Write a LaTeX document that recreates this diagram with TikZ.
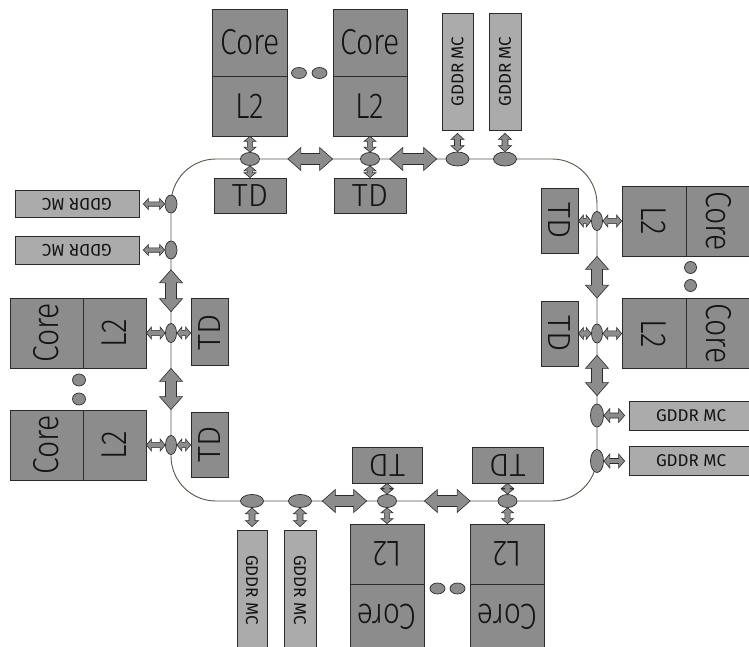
\documentclass[tikz,border=0pt]{standalone}
\usepackage{fontspec}
\setmainfont{Fira Sans}[UprightFont={* Light}]
\newfontfamily\mcfont{Fira Sans}
\usetikzlibrary{calc,shapes.geometric}

\definecolor{boxfill}{HTML}{8C8C8C}
\definecolor{mcfill}{HTML}{ABABAB}
\definecolor{edge}{HTML}{2B2B2B}
\definecolor{ringcol}{HTML}{55554A}
\definecolor{ink}{HTML}{141414}

% narrow, tall lettering for the unit labels
\newcommand{\lbl}[1]{\scalebox{0.84}[1]{#1}}

\tikzset{
  sz/.style 2 args={minimum width=#1pt, minimum height=#2pt},
  unit/.style={draw=edge, fill=boxfill, line width=0.8pt, inner sep=0pt, text=ink,
               font=\fontsize{36}{36}\selectfont},
  tdunit/.style={unit, font=\fontsize{32}{32}\selectfont},
  mc/.style={draw=edge, fill=mcfill, line width=0.8pt, inner sep=0pt, text=ink,
             font=\mcfont\fontsize{17}{17}\selectfont},
  stop/.style={ellipse, draw=edge, fill=boxfill, line width=0.7pt, inner sep=0pt},
  dotmark/.style={ellipse, draw=edge, fill=boxfill, line width=0.7pt, inner sep=0pt},
  arrowbody/.style={draw=edge, fill=boxfill, line width=0.6pt, line join=miter},
  ringpath/.style={draw=ringcol, line width=0.9pt, rounded corners=45pt},
}

% fat double-headed arrow between two points:
% #1 start, #2 end, #3 head length, #4 half head width, #5 half shaft width
\newcommand{\fatarrow}[5]{%
  \path (#1) coordinate (fa1) (#2) coordinate (fa2);
  \path ($(fa1)!#3!(fa2)$) coordinate (fb1) ($(fa2)!#3!(fa1)$) coordinate (fb2);
  \draw[arrowbody] (fa1) -- ($(fb1)!#4!90:(fa2)$) -- ($(fb1)!#5!90:(fa2)$)
    -- ($(fb2)!#5!-90:(fa1)$) -- ($(fb2)!#4!-90:(fa1)$) -- (fa2)
    -- ($(fb2)!#4!90:(fa1)$) -- ($(fb2)!#5!90:(fa1)$)
    -- ($(fb1)!#5!-90:(fa2)$) -- ($(fb1)!#4!-90:(fa2)$) -- cycle;
}
\newcommand{\bigarrow}[2]{\fatarrow{#1}{#2}{13pt}{11.5pt}{5.5pt}}
\newcommand{\linkarrow}[2]{\fatarrow{#1}{#2}{5pt}{6pt}{2.6pt}}
\newcommand{\mcarrow}[2]{\fatarrow{#1}{#2}{6pt}{6.5pt}{3pt}}

\begin{document}
\begin{tikzpicture}[x=1pt, y=-1pt]
\fill[white] (0,0) rectangle (749,647);
\useasboundingbox (0,0) rectangle (749,647);

% ring interconnect
\draw[ringpath] (171,159) rectangle (597,501);

% ---------- top side ----------
\node[unit, sz={75}{67}] (ct1) at (250,42.5) {\lbl{Core}};
\node[unit, sz={75}{60}] (lt1) at (250,106) {\lbl{L2}};
\node[unit, sz={74}{67}] (ct2) at (370,42.5) {\lbl{Core}};
\node[unit, sz={74}{60}] (lt2) at (370,106) {\lbl{L2}};
\node[dotmark, sz={15}{11}] (dt1) at (299,73) {};
\node[dotmark, sz={15}{11}] (dt2) at (319.5,73) {};
\node[mc, sz={31}{117}] (mt1) at (457.5,71.5) {\rotatebox{90}{GDDR MC}};
\node[mc, sz={32}{117}] (mt2) at (505,71.5) {\rotatebox{90}{GDDR MC}};
\node[stop, sz={19}{13}] (st1) at (250,159) {};
\node[stop, sz={19}{13}] (st2) at (370,159) {};
\node[stop, sz={23}{14}] (sm1) at (457.5,159) {};
\node[stop, sz={23}{14}] (sm2) at (505,159) {};
\node[tdunit, sz={72}{35}] (tt1) at (250,195.5) {TD};
\node[tdunit, sz={72}{35}] (tt2) at (370,195.5) {TD};

\linkarrow{lt1.south}{st1.north}
\linkarrow{st1.south}{tt1.north}
\linkarrow{lt2.south}{st2.north}
\linkarrow{st2.south}{tt2.north}
\mcarrow{$(mt1.south)+(0,3)$}{sm1.north}
\mcarrow{$(mt2.south)+(0,3)$}{sm2.north}
\bigarrow{lt1.east |- st1}{lt2.west |- st2}
\bigarrow{$(st2.east)+(10,0)$}{$(sm1.west)+(-9,0)$}

% ---------- left side ----------
\node[mc, sz={124}{27}] (ml1) at (77,204) {\rotatebox{180}{GDDR MC}};
\node[mc, sz={124}{28}] (ml2) at (77,250) {\rotatebox{180}{GDDR MC}};
\node[stop, sz={12}{18}] (sl1) at (171,204) {};
\node[stop, sz={12}{18}] (sl2) at (171,250) {};
\node[unit, sz={73}{70}] (cl1) at (46.5,333) {\rotatebox{90}{\lbl{Core}}};
\node[unit, sz={63}{70}] (ll1) at (114.5,333) {\rotatebox{90}{\lbl{L2}}};
\node[unit, sz={73}{70}] (cl2) at (46.5,445) {\rotatebox{90}{\lbl{Core}}};
\node[unit, sz={63}{70}] (ll2) at (114.5,445) {\rotatebox{90}{\lbl{L2}}};
\node[dotmark, sz={13}{12}] (dl1) at (79,380) {};
\node[dotmark, sz={13}{12}] (dl2) at (79,399) {};
\node[stop, sz={11}{19}] (sc1) at (171,333) {};
\node[stop, sz={11}{19}] (sc2) at (171,445) {};
\node[tdunit, sz={37}{67}] (tl1) at (209.5,332) {\rotatebox{90}{TD}};
\node[tdunit, sz={37}{65}] (tl2) at (209.5,444.5) {\rotatebox{90}{TD}};

\fatarrow{$(ml1.east)+(4,0)$}{sl1.west}{5pt}{5.5pt}{2.2pt}
\fatarrow{$(ml2.east)+(4,0)$}{sl2.west}{5pt}{5.5pt}{2.2pt}
\linkarrow{ll1.east}{sc1.west}
\linkarrow{sc1.east}{tl1.west |- sc1}
\linkarrow{ll2.east}{sc2.west}
\linkarrow{sc2.east}{tl2.west |- sc2}
\bigarrow{$(sl2.south)+(0,10.5)$}{$(sc1.north)+(0,-11.5)$}
\bigarrow{ll1.south -| sc1}{ll2.north -| sc2}

% ---------- right side ----------
\node[tdunit, sz={37}{65}] (tr1) at (559.5,221) {\rotatebox{-90}{TD}};
\node[tdunit, sz={37}{65}] (tr2) at (559.5,333.5) {\rotatebox{-90}{TD}};
\node[stop, sz={11}{19}] (sr1) at (597,221) {};
\node[stop, sz={11}{19}] (sr2) at (597,333.5) {};
\node[unit, sz={64}{70}] (lr1) at (654,221) {\rotatebox{-90}{\lbl{L2}}};
\node[unit, sz={66}{70}] (cr1) at (719,221) {\rotatebox{-90}{\lbl{Core}}};
\node[unit, sz={64}{70}] (lr2) at (654,333.5) {\rotatebox{-90}{\lbl{L2}}};
\node[unit, sz={66}{70}] (cr2) at (719,333.5) {\rotatebox{-90}{\lbl{Core}}};
\node[dotmark, sz={12}{12}] (dr1) at (690.5,267.5) {};
\node[dotmark, sz={12}{12}] (dr2) at (690.5,285.5) {};
\node[stop, sz={13}{23}] (sq1) at (597,415.5) {};
\node[stop, sz={13}{23}] (sq2) at (597,461) {};
\node[mc, sz={124}{29}] (mr1) at (691,415.5) {GDDR MC};
\node[mc, sz={124}{29}] (mr2) at (691,461) {GDDR MC};

\linkarrow{tr1.east}{sr1.west}
\linkarrow{sr1.east}{lr1.west}
\linkarrow{tr2.east}{sr2.west}
\linkarrow{sr2.east}{lr2.west}
\bigarrow{lr1.south -| sr1}{lr2.north -| sr2}
\bigarrow{$(sr2.south)+(0,12)$}{$(sq1.north)+(0,-8)$}
\fatarrow{sq1.east}{$(mr1.west)+(-4,0)$}{6pt}{7pt}{2.5pt}
\fatarrow{sq2.east}{$(mr2.west)+(-4,0)$}{6pt}{7pt}{2.5pt}

% ---------- bottom side ----------
\node[tdunit, sz={70}{36}] (tb1) at (387,465) {\rotatebox{180}{TD}};
\node[tdunit, sz={71}{36}] (tb2) at (507.5,465) {\rotatebox{180}{TD}};
\node[stop, sz={19}{13}] (sb1) at (387,501) {};
\node[stop, sz={19}{13}] (sb2) at (507.5,501) {};
\node[stop, sz={23}{13}] (sn1) at (252,501) {};
\node[stop, sz={23}{13}] (sn2) at (300,501) {};
\node[unit, sz={74}{60}] (lb1) at (387,554) {\rotatebox{180}{\lbl{L2}}};
\node[unit, sz={74}{66}] (cb1) at (387,617) {\rotatebox{180}{\lbl{Core}}};
\node[unit, sz={74}{60}] (lb2) at (507.5,554) {\rotatebox{180}{\lbl{L2}}};
\node[unit, sz={74}{66}] (cb2) at (507.5,617) {\rotatebox{180}{\lbl{Core}}};
\node[dotmark, sz={15}{11}] (db1) at (437.5,588.5) {};
\node[dotmark, sz={15}{11}] (db2) at (457.5,588.5) {};
\node[mc, sz={30}{120}] (mb1) at (252,590) {\rotatebox{-90}{GDDR MC}};
\node[mc, sz={32}{120}] (mb2) at (300,590) {\rotatebox{-90}{GDDR MC}};

\linkarrow{tb1.south}{sb1.north}
\linkarrow{sb1.south}{lb1.north}
\linkarrow{tb2.south}{sb2.north}
\linkarrow{sb2.south}{lb2.north}
\mcarrow{sn1.south}{$(mb1.north)+(0,-3)$}
\mcarrow{sn2.south}{$(mb2.north)+(0,-3)$}
\bigarrow{$(sn2.east)+(10.5,0)$}{$(sb1.west)+(-10.5,0)$}
\bigarrow{lb1.east |- sb1}{lb2.west |- sb2}
\end{tikzpicture}
\end{document}
